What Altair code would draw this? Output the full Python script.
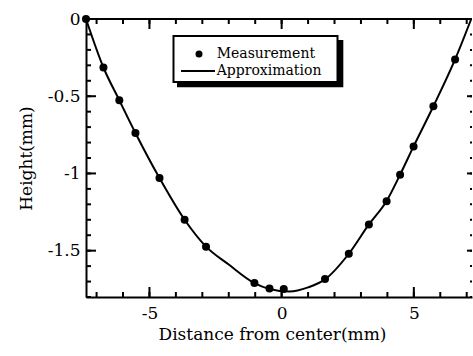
import altair as alt
import pandas as pd

# ---- data ----
meas_x = [-7.4, -6.74, -6.14, -5.53, -4.62, -3.67, -2.86, -1.03, -0.46, 0.08,
          1.64, 2.54, 3.30, 3.97, 4.48, 4.99, 5.74, 6.56]
meas_y = [0.0, -0.314, -0.526, -0.738, -1.03, -1.30, -1.474, -1.71, -1.745, -1.749,
          -1.684, -1.52, -1.33, -1.18, -1.008, -0.825, -0.565, -0.262]

approx_x = [-7.4, -6.74, -6.14, -5.53, -4.62, -3.67, -2.86, -2.0, -1.03, -0.46,
            0.3, 1.0, 1.64, 2.54, 3.30, 3.97, 4.48, 4.99, 5.74, 6.56, 7.17]
approx_y = [0.0, -0.314, -0.526, -0.738, -1.03, -1.30, -1.474, -1.59, -1.71, -1.748,
            -1.765, -1.738, -1.686, -1.52, -1.33, -1.178, -1.008, -0.825, -0.565, -0.262, 0.0]

series = ["Measurement", "Approximation"]

x_minor = [-7, -6, -5, -4, -3, -2, -1, 0, 1, 2, 3, 4, 5, 6, 7]
x_major = [-5, 0, 5]
y_minor = [0, -0.1, -0.2, -0.3, -0.4, -0.5, -0.6, -0.7, -0.8, -0.9,
           -1.0, -1.1, -1.2, -1.3, -1.4, -1.5, -1.6, -1.7, -1.8]
y_major = [0, -0.5, -1, -1.5]

x_domain = [-7.4, 7.2]
y_domain = [-1.8, 0]

W, H = 386, 278
FONT = "DejaVu Serif"

meas = pd.DataFrame({"x": meas_x, "y": meas_y, "series": series[0]})
approx = pd.DataFrame({"x": approx_x, "y": approx_y, "series": series[1]})
one = pd.DataFrame({"k": [0]})

xs = alt.Scale(domain=x_domain, nice=False, zero=False)
ys = alt.Scale(domain=y_domain, nice=False, zero=False)

num_label = ("datum.value == 0 ? '0' : (datum.value < 0 ? '-' : '') + "
             "format(abs(datum.value), '~g')")

X_AXIS = alt.Axis(
    orient="bottom", values=x_major, ticks=False, domain=True, domainWidth=2,
    domainColor="black", labelExpr=num_label, labelFont=FONT, labelFontSize=17,
    labelColor="black", labelPadding=8, grid=False,
    title="Distance from center(mm)", titleFont=FONT, titleFontSize=17,
    titleFontWeight="normal", titleColor="black", titleX=186, titleY=37,
    titleBaseline="middle", titleAlign="center")
Y_AXIS = alt.Axis(
    orient="left", values=y_major, ticks=False, domain=True, domainWidth=2,
    domainColor="black", labelExpr=num_label, labelFont=FONT, labelFontSize=17,
    labelColor="black", labelPadding=6, grid=False,
    title="Height(mm)", titleFont=FONT, titleFontSize=17,
    titleFontWeight="normal", titleColor="black", titleX=-60, titleY=139,
    titleBaseline="middle", titleAlign="center", titleAngle=270)


def xticks(values, y0, y1):
    return alt.Chart(pd.DataFrame({"x": values})).mark_rule(
        color="black", strokeWidth=2).encode(
        x=alt.X("x:Q", scale=xs, axis=X_AXIS), y=alt.value(y0), y2=alt.value(y1))


def yticks(values, x0, x1):
    return alt.Chart(pd.DataFrame({"y": values})).mark_rule(
        color="black", strokeWidth=2).encode(
        y=alt.Y("y:Q", scale=ys, axis=Y_AXIS), x=alt.value(x0), x2=alt.value(x1))


# decoration: legend frame shadow and frame, top border
shadow = alt.Chart(one).mark_rect(color="black").encode(
    x=alt.value(91), x2=alt.value(257.3), y=alt.value(21), y2=alt.value(68.3))
frame = alt.Chart(one).mark_rect(fill="white", stroke="black", strokeWidth=2).encode(
    x=alt.value(87.5), x2=alt.value(251.5), y=alt.value(17), y2=alt.value(63))
top_border = alt.Chart(one).mark_rule(color="black", strokeWidth=2).encode(
    x=alt.value(0), x2=alt.value(W), y=alt.value(0))

curve = alt.Chart(approx).mark_line(color="black", strokeWidth=2, interpolate="monotone").encode(
    x=alt.X("x:Q", scale=xs, axis=X_AXIS),
    y=alt.Y("y:Q", scale=ys, axis=Y_AXIS),
    color=alt.Color("series:N", scale=alt.Scale(domain=[series[1]], range=["black"]),
                    legend=alt.Legend(
                        title=None, orient="none", legendX=94, legendY=34,
                        labelFont=FONT, labelFontSize=14, labelColor="black",
                        labelOffset=0.7, padding=0, symbolType="stroke",
                        symbolSize=1156, symbolStrokeWidth=2)),
    order="x:Q",
)

points = alt.Chart(meas).mark_point(filled=True, color="black", size=64, opacity=1).encode(
    x=alt.X("x:Q", scale=xs, axis=X_AXIS),
    y=alt.Y("y:Q", scale=ys, axis=Y_AXIS),
    shape=alt.Shape("series:N", scale=alt.Scale(domain=[series[0]], range=["circle"]),
                    legend=alt.Legend(
                        title=None, orient="none", legendX=106, legendY=28,
                        labelFont=FONT, labelFontSize=14, labelColor="black",
                        labelOffset=10.7, padding=0, symbolSize=49,
                        symbolStrokeWidth=1, symbolFillColor="black",
                        symbolStrokeColor="black", symbolOpacity=1)),
)

layers = [
    shadow, frame, top_border, curve,
    xticks(x_minor, H, H - 5), xticks(x_major, H, H - 10),
    xticks(x_minor, 0, 5), xticks(x_major, 0, 10),
    yticks(y_minor, 0, 5), yticks(y_major, 0, 10),
    yticks(y_minor, W, W - 2), yticks(y_major, W, W - 5),
    points,
]

chart = alt.layer(*layers).resolve_scale(
    x="shared", y="shared", color="independent", shape="independent"
).properties(
    width=W, height=H,
    autosize=alt.AutoSizeParams(type="none"),
    padding={"left": 86, "top": 19, "right": 1, "bottom": 59},
    background="white",
).configure_view(stroke=None)

chart.save("out.html", embed_options={"renderer": "svg", "actions": False})
